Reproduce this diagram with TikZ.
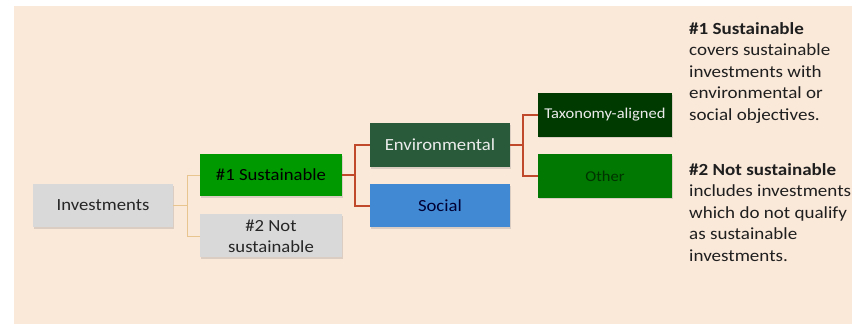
\documentclass[tikz,border=0pt]{standalone}
\usepackage{fontspec}
\setmainfont[FakeStretch=1.1]{Carlito}
\newfontfamily\notefont[FakeStretch=1.12]{Carlito}
\usepackage{tikz}
\usetikzlibrary{positioning,calc,shadows}

\definecolor{pagebg}{RGB}{250,232,217}
\definecolor{boxgray}{RGB}{217,217,217}
\definecolor{susgreen}{RGB}{0,154,0}
\definecolor{envgreen}{RGB}{41,91,58}
\definecolor{socblue}{RGB}{65,137,211}
\definecolor{taxgreen}{RGB}{1,58,1}
\definecolor{othgreen}{RGB}{1,120,1}
\definecolor{linered}{RGB}{192,72,43}
\definecolor{linetan}{RGB}{232,197,142}

\begin{document}
\begin{tikzpicture}[x=1pt, y=-1pt, node distance=17pt,
    box/.style={rectangle, minimum width=140pt, minimum height=43pt, inner sep=0pt, align=center,
        font=\fontsize{17}{21}\selectfont,
        drop shadow={opacity=0.25, shadow xshift=1pt, shadow yshift=-1.5pt}},
    smallbox/.style={box, minimum width=134pt, minimum height=43.5pt, font=\fontsize{15}{18}\selectfont},
    note/.style={anchor=north west, align=left, inner sep=0pt, text=black!88,
        font=\notefont\fontsize{17}{21.6}\selectfont},
    tanline/.style={draw=linetan, line width=0.8pt},
    redline/.style={draw=linered, line width=1.8pt}]
    \useasboundingbox (0,0) rectangle (852,324);
    \fill[pagebg] (14,6) rectangle (852,324);

    % tree
    \node [box, fill=boxgray, text=black!85] (inv) at (103,205.5) {Investments};
    \node [box, fill=susgreen, minimum width=142pt, minimum height=42pt, text=black] (sus) at (271,175) {\#1 Sustainable};
    \node [box, fill=boxgray, minimum width=142pt, text=black!85, below=18pt of sus] (nsus) {\#2 Not\\sustainable};
    \node [box, fill=envgreen, minimum height=44pt, text=white!92!black] (env) at (440,145) {Environmental};
    \node [box, fill=socblue, text=blue!20!black, below=of env] (soc) {Social};
    \node [smallbox, fill=taxgreen, text=white!92!black] (tax) at (605,115) {Taxonomy-aligned};
    \node [smallbox, fill=othgreen, text=black!80!green, below=of tax] (oth) {Other};

    \coordinate (j1) at ($(inv.east)+(14,0)$);
    \coordinate (j2) at ($(sus.east)+(13,0)$);
    \coordinate (j3) at ($(env.east)+(13,0)$);
    \draw [tanline] (inv.east) -- (j1) |- (sus.west);
    \draw [tanline] (j1) |- (nsus.west);
    \draw [redline] (sus.east) -- (j2) |- (env.west);
    \draw [redline] (j2) |- (soc.west);
    \draw [redline] (env.east) -- (j3) |- (tax.west);
    \draw [redline] (j3) |- (oth.west);

    % notes
    \node [note] (note1) at (689,22)
        {\textbf{\#1 Sustainable}\\covers sustainable\\investments with\\environmental or\\social objectives.};
    \node [note] (note2) at (689,163)
        {\textbf{\#2 Not sustainable}\\includes investments\\which do not qualify\\as sustainable\\investments.};
\end{tikzpicture}
\end{document}
